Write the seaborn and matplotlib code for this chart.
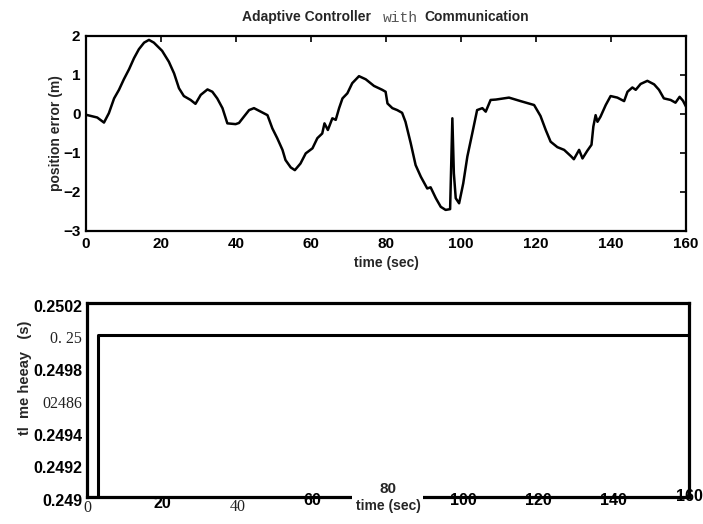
import matplotlib
matplotlib.use("Agg")
import matplotlib.pyplot as plt
import matplotlib.transforms as mtransforms
import seaborn as sns
import pandas as pd

# ---- data ----
err_time = [0, 3.0, 4.8, 6.1, 7.5, 8.8, 10.1, 11.5, 12.8, 14.1, 15.5, 16.8, 18.1,
            20.3, 22.1, 23.5, 24.8, 26.1, 27.9, 29.2, 30.6, 32.4, 33.7, 35.0, 36.4,
            37.7, 39.9, 40.8, 42.1, 43.5, 44.8, 46.6, 48.4, 49.7, 51.0, 52.4, 53.2,
            54.6, 55.7, 57.2, 58.6, 60.4, 61.7, 63.0, 63.6, 64.5, 65.7, 66.6, 67.5,
            68.4, 69.7, 71.0, 72.8, 74.6, 76.8, 79.0, 79.9, 80.4, 81.7, 83.0, 84.3,
            85.2, 86.6, 87.9, 89.3, 91.0, 91.9, 93.3, 94.6, 95.9, 97.1, 97.7, 98.1,
            98.6, 99.5, 100.6, 101.7, 103.0, 104.3, 105.7, 106.6, 107.9, 109.3,
            112.8, 115.9, 119.5, 121.2, 122.6, 123.9, 125.7, 127.5, 129.3, 130.1,
            131.5, 132.4, 133.7, 134.8, 135.3, 135.9, 136.4, 137.2, 138.6, 139.9,
            141.7, 143.5, 144.4, 145.7, 146.6, 147.9, 149.7, 151.5, 152.8, 154.1,
            155.9, 157.2, 158.3, 159.2, 160]
err_value = [-0.02, -0.09, -0.22, 0.02, 0.40, 0.62, 0.89, 1.15, 1.43, 1.66, 1.83,
             1.90, 1.83, 1.62, 1.34, 1.04, 0.66, 0.46, 0.36, 0.26, 0.49, 0.63, 0.57,
             0.40, 0.15, -0.24, -0.26, -0.23, -0.07, 0.10, 0.15, 0.06, -0.03, -0.37,
             -0.62, -0.92, -1.18, -1.37, -1.44, -1.27, -1.01, -0.88, -0.62, -0.50,
             -0.24, -0.41, -0.11, -0.15, 0.15, 0.40, 0.53, 0.79, 0.97, 0.89, 0.72,
             0.62, 0.57, 0.27, 0.15, 0.10, 0.03, -0.20, -0.75, -1.31, -1.61, -1.91,
             -1.88, -2.16, -2.38, -2.46, -2.44, -0.11, -1.52, -2.16, -2.29, -1.78,
             -1.09, -0.50, 0.10, 0.15, 0.06, 0.36, 0.37, 0.42, 0.33, 0.23, -0.05,
             -0.41, -0.71, -0.85, -0.92, -1.08, -1.16, -0.92, -1.14, -0.94, -0.79,
             -0.32, -0.03, -0.20, -0.07, 0.23, 0.46, 0.42, 0.33, 0.57, 0.68, 0.62,
             0.77, 0.85, 0.76, 0.62, 0.40, 0.36, 0.29, 0.44, 0.34, 0.19]

delay_time = [0, 3, 3, 160]
delay_value = [0.249, 0.249, 0.25, 0.25]

top_xticks = [0, 20, 40, 60, 80, 100, 120, 140, 160]
top_yticks = [-3, -2, -1, 0, 1, 2]

bot_xticks = [0, 20, 40, 60, 80, 100, 120, 140, 160]
bot_xlabels = ["0", "20", "40", "60", "", "100", "120", "140", "160"]
bot_yticks = [0.249, 0.2492, 0.2494, 0.2496, 0.2498, 0.25, 0.2502]
bot_ylabels = ["0.249", "0.2492", "0.2494", "02486", "0.2498", "0. 25", "0.2502"]

SANS = "Liberation Sans"
SERIF = "Liberation Serif"

sns.set_style("white")
plt.rcParams["font.family"] = [SANS, "DejaVu Sans"]
plt.rcParams["font.weight"] = "bold"

fig = plt.figure(figsize=(7.03, 5.24), dpi=100)
ax1 = fig.add_axes([0.1223, 0.5592, 0.8535, 0.3721])
ax2 = fig.add_axes([0.1238, 0.0515, 0.8563, 0.3702])

# ---- top panel ----
err = pd.DataFrame({"t": err_time, "e": err_value})
sns.lineplot(data=err, x="t", y="e", ax=ax1, color="black", lw=1.8,
             sort=False, estimator=None)
ax1.set_xlim(0, 160)
ax1.set_ylim(-3, 2)
ax1.set_xticks(top_xticks)
ax1.set_yticks(top_yticks)
ax1.set_yticklabels(["\u22123", "\u22122", "\u22121", "0", "1", "2"])
ax1.tick_params(direction="in", length=4, width=1.2, top=True, right=True,
                labelsize=11, pad=4, colors="black")
for s in ax1.spines.values():
    s.set_linewidth(1.6)
    s.set_color("black")
ax1.set_xlabel("time (sec)", fontsize=10, fontweight="bold", labelpad=4)
ax1.set_ylabel("position error (m)", fontsize=10, fontweight="bold", labelpad=0)

# title in three pieces (mixed fonts, as scanned)
fig.text(242 / 703, 1 - 17 / 524, "Adaptive Controller", fontsize=10,
         fontweight="bold", ha="left", va="center")
fig.text(383 / 703, 1 - 18 / 524, "with", fontsize=10.5, family="Liberation Mono",
         fontweight="normal", color="#555555", ha="left", va="center")
fig.text(424 / 703, 1 - 17 / 524, "Communication", fontsize=10,
         fontweight="bold", ha="left", va="center")

# ---- bottom panel ----
dl = pd.DataFrame({"t": delay_time, "d": delay_value})
sns.lineplot(data=dl, x="t", y="d", ax=ax2, color="black", lw=2.2,
             sort=False, estimator=None)
ax2.set_xlim(0, 160)
ax2.set_ylim(0.249, 0.2502)
ax2.set_xticks(bot_xticks)
ax2.set_xticklabels([""] * len(bot_xticks))
ax2.set_yticks(bot_yticks)
ax2.set_yticklabels([""] * len(bot_yticks))
ax2.tick_params(axis="x", length=0)
ax2.tick_params(axis="y", direction="in", length=4, width=2)
for s in ax2.spines.values():
    s.set_linewidth(2.3)
    s.set_color("black")
ax2.set_xlabel("")
ax2.set_ylabel("")

# x tick labels, some came out of the scan in a serif face
xtrans = ax2.get_xaxis_transform()
x_off = {0: (-0.056, SERIF), 20: (-0.031, SANS), 40: (-0.052, SERIF),
         60: (-0.02, SANS), 100: (-0.02, SANS), 120: (-0.02, SANS),
         140: (-0.02, SANS), 160: (0.005, SANS)}
for t, lab in zip(bot_xticks, bot_xlabels):
    if not lab:
        continue
    dy, fam = x_off[t]
    serif = fam == SERIF
    ax2.text(t, dy, lab, transform=xtrans, ha="center", va="center",
             fontsize=11.5 if serif else 11.5, family=fam,
             fontweight="normal" if serif else "bold",
             color="#222222" if serif else "black", clip_on=False)

# gap in the bottom frame where "80" and the axis title sit
ax2.axvspan(70.5, 89.3, ymin=-0.03, ymax=0.03, color="white", zorder=3,
            clip_on=False, lw=0)
ax2.text(80, 0.04, "80", transform=xtrans, ha="center", va="center",
         fontsize=11, fontweight="bold", zorder=4, clip_on=False)
ax2.text(0.5, -0.045, "time (sec)", transform=ax2.transAxes, ha="center",
         va="center", fontsize=10, fontweight="bold", clip_on=False)

# y tick labels
ytrans = mtransforms.offset_copy(ax2.get_yaxis_transform(), fig=fig,
                                 x=-5, y=-4, units="dots")
for v, lab in zip(bot_yticks, bot_ylabels):
    serif = lab in ("02486", "0. 25")
    ax2.text(0, v, lab, transform=ytrans, ha="right", va="center",
             fontsize=11.5 if serif else 11.5,
             family=SERIF if serif else SANS,
             fontweight="normal" if serif else "bold",
             color="#222222" if serif else "black", clip_on=False)

fig.text(25 / 703, 1 - 378 / 524, "tl  me heeay   (s)", rotation=90,
         fontsize=10.5, fontweight="bold", ha="center", va="center")

fig.savefig("out.png", dpi=100)
